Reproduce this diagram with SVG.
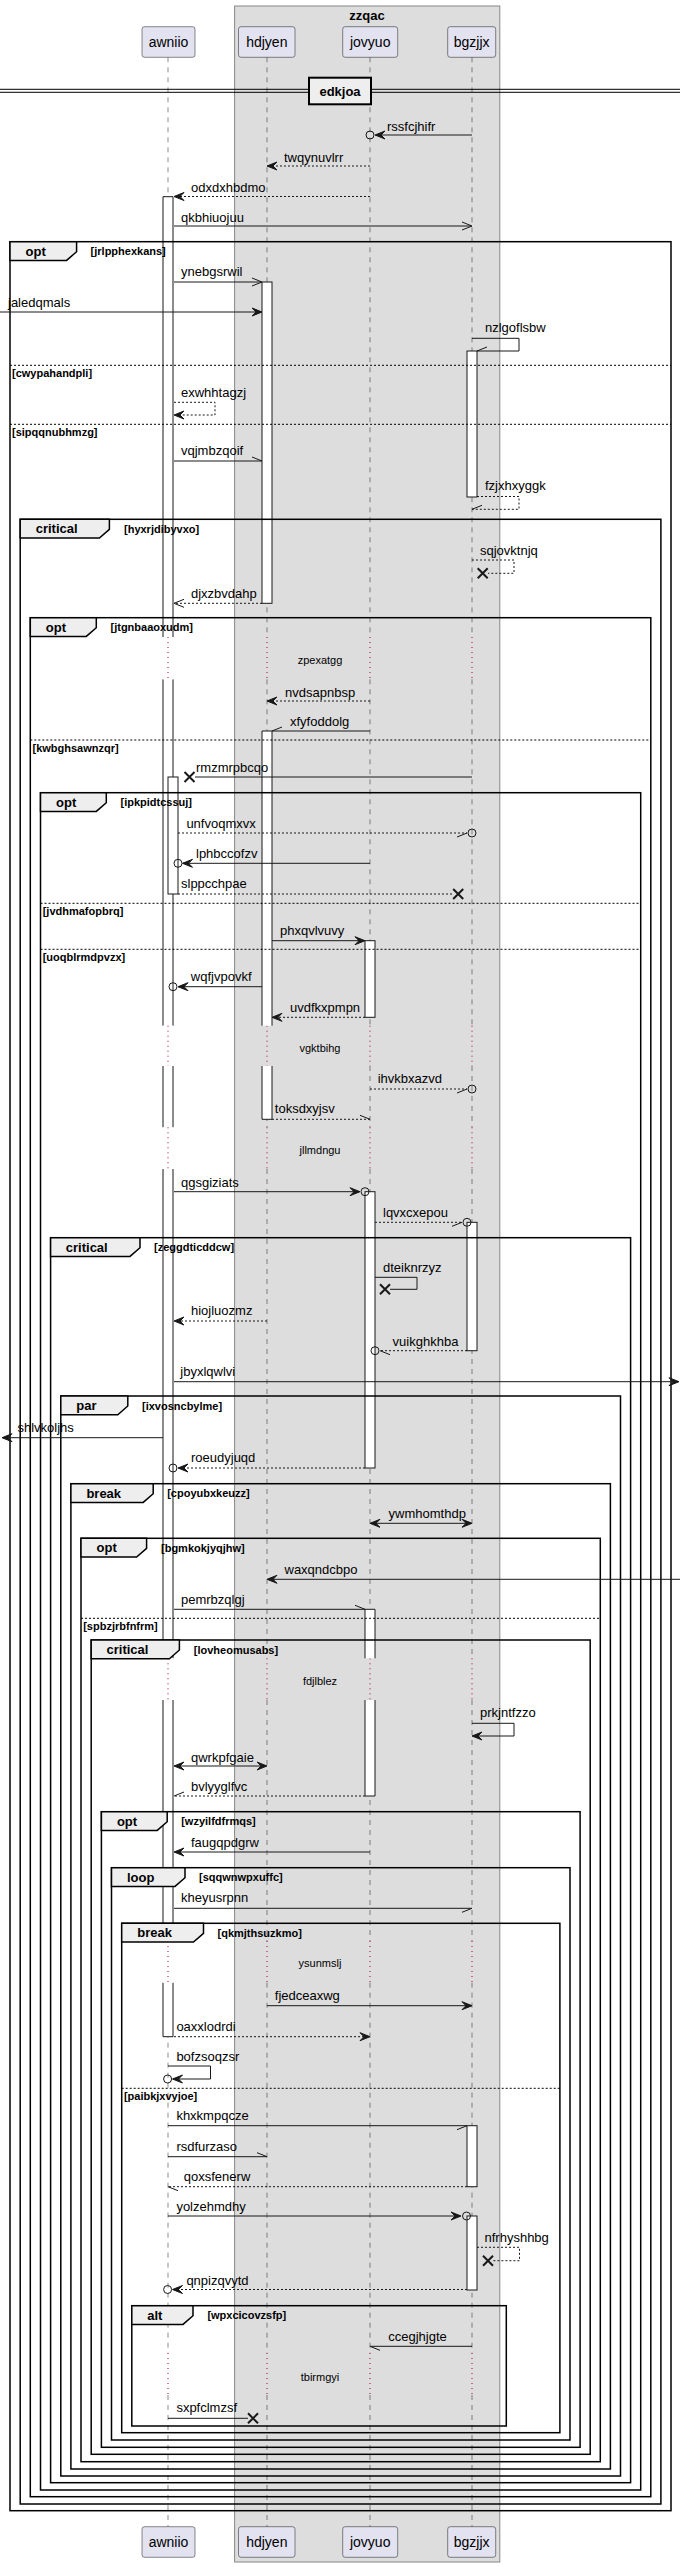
<svg xmlns="http://www.w3.org/2000/svg" width="680" height="2567" viewBox="0 0 680 2567">
<style>
text{font-family:"Liberation Sans",Arial,sans-serif;fill:#000}
.m{font-size:13px}
.p{font-size:14px}
.b{font-size:13px;font-weight:bold}
.c{font-size:11px;font-weight:bold}
.d{font-size:11px}
.pb{fill:#E2E2F0;stroke:#181818;stroke-width:0.5}
.ll{fill:none;stroke:#181818;stroke-width:0.5;stroke-dasharray:5,5}
.dl{fill:none;stroke:#A80036;stroke-width:1;stroke-dasharray:1,4}
.af{fill:#fff;stroke:none}
.as{fill:none;stroke:#181818;stroke-width:1}
.fr{fill:none;stroke:#000;stroke-width:1.5}
.tab{fill:#EEEEEE;stroke:#000;stroke-width:1.5}
.el{fill:none;stroke:#000;stroke-width:1;stroke-dasharray:2,2}
.s{fill:none;stroke:#181818;stroke-width:1}
.ds{fill:none;stroke:#181818;stroke-width:1;stroke-dasharray:2,2}
.h{fill:#181818;stroke:#181818;stroke-width:1}
.o{fill:none;stroke:#181818;stroke-width:1}
.x{fill:none;stroke:#181818;stroke-width:2}
</style>
<g id="box-zzqac">
<rect x="234.6" y="6" width="265.2" height="2556" fill="#DDDDDD" stroke="#888" stroke-width="1"/>
<text class="b" x="367" y="20" text-anchor="middle">zzqac</text>
</g>
<g id="lifelines">
<path class="ll" d="M168,57.3V637M168,679.3V1025.7M168,1066V1127.3M168,1169V1658.3M168,1700V1941M168,1982.7V2353M168,2395V2526.7"/>
<path class="ll" d="M267,57.3V637M267,679.3V1025.7M267,1066V1127.3M267,1169V1658.3M267,1700V1941M267,1982.7V2353M267,2395V2526.7"/>
<path class="ll" d="M370,57.3V637M370,679.3V1025.7M370,1066V1127.3M370,1169V1658.3M370,1700V1941M370,1982.7V2353M370,2395V2526.7"/>
<path class="ll" d="M472,57.3V637M472,679.3V1025.7M472,1066V1127.3M472,1169V1658.3M472,1700V1941M472,1982.7V2353M472,2395V2526.7"/>
<path class="dl" d="M168,637V679.3M168,1025.7V1066M168,1127.3V1169M168,1658.3V1700M168,1941V1982.7M168,2353V2395"/>
<path class="dl" d="M267,637V679.3M267,1025.7V1066M267,1127.3V1169M267,1658.3V1700M267,1941V1982.7M267,2353V2395"/>
<path class="dl" d="M370,637V679.3M370,1025.7V1066M370,1127.3V1169M370,1658.3V1700M370,1941V1982.7M370,2353V2395"/>
<path class="dl" d="M472,637V679.3M472,1025.7V1066M472,1127.3V1169M472,1658.3V1700M472,1941V1982.7M472,2353V2395"/>
</g>
<g id="participant-awniio">
<rect class="pb" x="142" y="26.7" width="53" height="30.6" rx="2.5"/>
<text class="p" x="168.5" y="46.5" text-anchor="middle">awniio</text>
<rect class="pb" x="142" y="2526.7" width="53" height="30.6" rx="2.5"/>
<text class="p" x="168.5" y="2546.5" text-anchor="middle">awniio</text>
</g>
<g id="participant-hdjyen">
<rect class="pb" x="238.5" y="26.7" width="56.5" height="30.6" rx="2.5"/>
<text class="p" x="266.8" y="46.5" text-anchor="middle">hdjyen</text>
<rect class="pb" x="238.5" y="2526.7" width="56.5" height="30.6" rx="2.5"/>
<text class="p" x="266.8" y="2546.5" text-anchor="middle">hdjyen</text>
</g>
<g id="participant-jovyuo">
<rect class="pb" x="342.7" y="26.7" width="55" height="30.6" rx="2.5"/>
<text class="p" x="370.2" y="46.5" text-anchor="middle">jovyuo</text>
<rect class="pb" x="342.7" y="2526.7" width="55" height="30.6" rx="2.5"/>
<text class="p" x="370.2" y="2546.5" text-anchor="middle">jovyuo</text>
</g>
<g id="participant-bgzjjx">
<rect class="pb" x="447.7" y="26.7" width="48" height="30.6" rx="2.5"/>
<text class="p" x="471.7" y="46.5" text-anchor="middle">bgzjjx</text>
<rect class="pb" x="447.7" y="2526.7" width="48" height="30.6" rx="2.5"/>
<text class="p" x="471.7" y="2546.5" text-anchor="middle">bgzjjx</text>
</g>
<g id="activations">
<rect class="af" x="163" y="196.7" width="10" height="1839.9"/>
<path class="as" d="M163,637V196.7H173V637M163,679.3V1025.7M173,679.3V1025.7M163,1066V1127.3M173,1066V1127.3M163,1169V1658.3M173,1169V1658.3M163,1700V1941M173,1700V1941M163,1982.7V2036.7H173V1982.7"/>
<rect class="af" x="163" y="637" width="10" height="42.3"/>
<rect class="af" x="163" y="1025.7" width="10" height="40.3"/>
<rect class="af" x="163" y="1127.3" width="10" height="41.7"/>
<rect class="af" x="163" y="1658.3" width="10" height="41.7"/>
<rect class="af" x="163" y="1941" width="10" height="41.7"/>
<path class="dl" d="M168,637V679.3M168,1025.7V1066M168,1127.3V1169M168,1658.3V1700M168,1941V1982.7"/>
<rect class="af as" x="168" y="777" width="10" height="117" style="fill:#fff"/>
<rect x="262" y="282" width="10" height="321.3" fill="#fff" stroke="#181818"/>
<rect class="af" x="262" y="731" width="10" height="294.7"/>
<rect class="af" x="262" y="1066" width="10" height="53.3"/>
<path class="as" d="M262,1025.7V731H272V1025.7M262,1066V1119.3H272V1066"/>
<rect x="365" y="940.7" width="10" height="76.6" fill="#fff" stroke="#181818"/>
<rect x="365" y="1191.7" width="10" height="276.3" fill="#fff" stroke="#181818"/>
<rect class="af" x="365" y="1609.3" width="10" height="49"/>
<rect class="af" x="365" y="1700" width="10" height="96"/>
<path class="as" d="M365,1658.3V1609.3H375V1658.3M365,1700V1796H375V1700"/>
<rect x="467" y="351" width="10" height="146" fill="#fff" stroke="#181818"/>
<rect x="467" y="1222.3" width="10" height="128.4" fill="#fff" stroke="#181818"/>
<rect x="467" y="2125.7" width="10" height="61" fill="#fff" stroke="#181818"/>
<rect x="467" y="2216" width="10" height="74" fill="#fff" stroke="#181818"/>
</g>
<g id="divider-edkjoa">
<path d="M0,89.3H680M0,92.3H680" stroke="#000" stroke-width="1" fill="none"/>
<rect x="309" y="77.7" width="62" height="26.6" fill="#EEEEEE" stroke="#000" stroke-width="2"/>
<text class="b" x="340" y="95.5" text-anchor="middle">edkjoa</text>
</g>
<g id="frames">
<g id="frame-opt-jrlpphexkans">
<rect class="fr" x="10" y="241.7" width="661" height="2269"/>
<path class="tab" d="M10,241.7H76.6V251.7L66.6,260.4H10Z"/>
<text class="b" x="25.5" y="255.7">opt</text>
<text class="c" x="90.6" y="255.2">[jrlpphexkans]</text>
<path class="el" d="M10,365.3H671M10,424.3H671"/>
<text class="c" x="12" y="376.7">[cwypahandpli]</text>
<text class="c" x="12" y="435.7">[sipqqnubhmzg]</text>
</g>
<g id="frame-critical-hyxrjdibyvxo">
<rect class="fr" x="20.2" y="519.3" width="640.7" height="1984.7"/>
<path class="tab" d="M20.2,519.3H109.4V529.3L99.4,538H20.2Z"/>
<text class="b" x="35.7" y="533.3">critical</text>
<text class="c" x="124" y="532.8">[hyxrjdibyvxo]</text>
</g>
<g id="frame-opt-jtgnbaaoxudm">
<rect class="fr" x="30.3" y="617.7" width="620.5" height="1879"/>
<path class="tab" d="M30.3,617.7H96.3V627.7L86.3,636.4H30.3Z"/>
<text class="b" x="45.8" y="631.7">opt</text>
<text class="c" x="110.5" y="631.2">[jtgnbaaoxudm]</text>
<path class="el" d="M30.3,740H650.8"/>
<text class="c" x="32.5" y="751.5">[kwbghsawnzqr]</text>
</g>
<g id="frame-opt-ipkpidtcssuj">
<rect class="fr" x="40.5" y="792.7" width="600.2" height="1697.3"/>
<path class="tab" d="M40.5,792.7H106.3V802.7L96.3,811.4H40.5Z"/>
<text class="b" x="56" y="806.7">opt</text>
<text class="c" x="120.5" y="806.2">[ipkpidtcssuj]</text>
<path class="el" d="M40.5,903.3H640.7M40.5,949.3H640.7"/>
<text class="c" x="42.7" y="914.7">[jvdhmafopbrq]</text>
<text class="c" x="42.7" y="960.7">[uoqblrmdpvzx]</text>
</g>
<g id="frame-critical-zeggdticddcw">
<rect class="fr" x="50.6" y="1237.7" width="580" height="1245"/>
<path class="tab" d="M50.6,1237.7H140V1247.7L130,1256.4H50.6Z"/>
<text class="b" x="65.8" y="1251.7">critical</text>
<text class="c" x="154" y="1251.2">[zeggdticddcw]</text>
</g>
<g id="frame-par-ixvosncbylme">
<rect class="fr" x="60.8" y="1396" width="559.7" height="1080"/>
<path class="tab" d="M60.8,1396H127.8V1406L117.8,1414.7H60.8Z"/>
<text class="b" x="76.3" y="1410">par</text>
<text class="c" x="142" y="1409.5">[ixvosncbylme]</text>
</g>
<g id="frame-break-cpoyubxkeuzz">
<rect class="fr" x="70.9" y="1483.7" width="539.5" height="985.3"/>
<path class="tab" d="M70.9,1483.7H153.2V1493.7L143.2,1502.4H70.9Z"/>
<text class="b" x="86.4" y="1497.7">break</text>
<text class="c" x="167.2" y="1497.2">[cpoyubxkeuzz]</text>
</g>
<g id="frame-opt-bgmkokjyqjhw">
<rect class="fr" x="81" y="1538.3" width="519.3" height="923.4"/>
<path class="tab" d="M81,1538.3H146.6V1548.3L136.6,1557H81Z"/>
<text class="b" x="96.5" y="1552.3">opt</text>
<text class="c" x="161" y="1551.8">[bgmkokjyqjhw]</text>
<path class="el" d="M81,1618.3H600.3"/>
<text class="c" x="83.2" y="1629.7">[spbzjrbfnfrm]</text>
</g>
<g id="frame-critical-lovheomusabs">
<rect class="fr" x="91.2" y="1640" width="499" height="814.3"/>
<path class="tab" d="M91.2,1640H179.4V1650L169.4,1658.7H91.2Z"/>
<text class="b" x="106.5" y="1654">critical</text>
<text class="c" x="193.8" y="1653.5">[lovheomusabs]</text>
</g>
<g id="frame-opt-wzyilfdfrmqs">
<rect class="fr" x="101.4" y="1811.7" width="478.7" height="635.6"/>
<path class="tab" d="M101.4,1811.7H167.2V1821.7L157.2,1830.4H101.4Z"/>
<text class="b" x="116.9" y="1825.7">opt</text>
<text class="c" x="181.2" y="1825.2">[wzyilfdfrmqs]</text>
</g>
<g id="frame-loop-sqqwnwpxuffc">
<rect class="fr" x="111.5" y="1867.7" width="458.5" height="572.3"/>
<path class="tab" d="M111.5,1867.7H185V1877.7L175,1886.4H111.5Z"/>
<text class="b" x="127" y="1881.7">loop</text>
<text class="c" x="199" y="1881.2">[sqqwnwpxuffc]</text>
</g>
<g id="frame-break-qkmjthsuzkmo">
<rect class="fr" x="121.7" y="1923.3" width="438.2" height="509.4"/>
<path class="tab" d="M121.7,1923.3H203.5V1933.3L193.5,1942H121.7Z"/>
<text class="b" x="137.2" y="1937.3">break</text>
<text class="c" x="217.5" y="1936.8">[qkmjthsuzkmo]</text>
<path class="el" d="M121.7,2088.3H559.9"/>
<text class="c" x="123.9" y="2099.7">[paibkjxvyjoe]</text>
</g>
<g id="frame-alt-wpxcicovzsfp">
<rect class="fr" x="131.8" y="2305.7" width="374.5" height="120.3"/>
<path class="tab" d="M131.8,2305.7H193V2315.7L183,2324.4H131.8Z"/>
<text class="b" x="147.2" y="2319.7">alt</text>
<text class="c" x="207.4" y="2319.2">[wpxcicovzsfp]</text>
</g>
</g>
<g id="delays">
<text class="d" x="320" y="664" text-anchor="middle">zpexatgg</text>
<text class="d" x="320" y="1051.7" text-anchor="middle">vgktbihg</text>
<text class="d" x="320" y="1154" text-anchor="middle">jllmdngu</text>
<text class="d" x="320" y="1685" text-anchor="middle">fdjlblez</text>
<text class="d" x="320" y="1967.3" text-anchor="middle">ysunmslj</text>
<text class="d" x="320" y="2380.7" text-anchor="middle">tbirmgyi</text>
</g>
<g id="connectors">
<path class="s" d="M472,135H376"/><polygon class="h" points="375,135 385,131 381,135 385,139"/><circle class="o" cx="370" cy="135" r="4"/>
<text class="m" x="387" y="131">rssfcjhifr</text>
<path class="ds" d="M370,166H268"/><polygon class="h" points="267,166 277,162 273,166 277,170"/>
<text class="m" x="284" y="161.5">twqynuvlrr</text>
<path class="ds" d="M370,196.5H175"/><polygon class="h" points="174,196.5 184,192.5 180,196.5 184,200.5"/>
<text class="m" x="191" y="192">odxdxhbdmo</text>
<path class="s" d="M174,226H471M462,222L472,226L462,230"/>
<text class="m" x="181" y="221.5">qkbhiuojuu</text>
<path class="s" d="M174,282H261M252,278L262,282L252,286"/>
<text class="m" x="181" y="275.5">ynebgsrwil</text>
<path class="s" d="M0,312H261"/><polygon class="h" points="262,312 252,308 256,312 252,316"/>
<text class="m" x="8" y="307">jaledqmals</text>
<path class="s" d="M472,338.3H519V351H477M477,351L487,347"/>
<text class="m" x="485" y="332">nzlgoflsbw</text>
<path class="ds" d="M174,402.3H215V415H175"/><polygon class="h" points="174,415 184,411 180,415 184,419"/>
<text class="m" x="181" y="396.5">exwhhtagzj</text>
<path class="s" d="M174,461H262L252,457"/>
<text class="m" x="181" y="455">vqjmbzqoif</text>
<path class="ds" d="M477,496.5H519V509.3H472"/><path class="s" d="M472,509.3L482,505.3"/>
<text class="m" x="485" y="490">fzjxhxyggk</text>
<path class="ds" d="M472,560H514V573.3H488"/><path class="x" d="M477.7,568.3L487.7,578.3M477.7,578.3L487.7,568.3"/>
<text class="m" x="480" y="555">sqjovktnjq</text>
<path class="ds" d="M262,603.3H175"/><path class="s" d="M184,599.3L174,603.3L184,607.3"/>
<text class="m" x="191" y="597.7">djxzbvdahp</text>
<path class="ds" d="M370,701H268"/><polygon class="h" points="267,701 277,697 273,701 277,705"/>
<text class="m" x="285" y="696.7">nvdsapnbsp</text>
<path class="s" d="M370,731H272L282,727"/>
<text class="m" x="290" y="726">xfyfoddolg</text>
<path class="s" d="M472,777H195"/><path class="x" d="M184.5,772L194.5,782M184.5,782L194.5,772"/>
<text class="m" x="196" y="771.7">rmzmrpbcqo</text>
<path class="ds" d="M178,833H467"/><path class="s" d="M467,833L457,837"/><circle class="o" cx="472" cy="833" r="4"/>
<text class="m" x="186.4" y="827.7">unfvoqmxvx</text>
<path class="s" d="M370,863.3H183"/><polygon class="h" points="182.5,863.3 192.5,859.3 188.5,863.3 192.5,867.3"/><circle class="o" cx="178" cy="863.3" r="4"/>
<text class="m" x="196" y="858">lphbccofzv</text>
<path class="ds" d="M178,894H453"/><path class="x" d="M453.2,889L463.2,899M453.2,899L463.2,889"/>
<text class="m" x="181" y="888.3">slppcchpae</text>
<path class="s" d="M272,940.7H364"/><polygon class="h" points="365,940.7 355,936.7 359,940.7 355,944.7"/>
<text class="m" x="280" y="935">phxqvlvuvy</text>
<path class="s" d="M262,986.7H178"/><polygon class="h" points="178,986.7 188,982.7 184,986.7 188,990.7"/><circle class="o" cx="173" cy="986.7" r="4"/>
<text class="m" x="190.8" y="981">wqfjvpovkf</text>
<path class="ds" d="M365,1017.3H273"/><polygon class="h" points="272,1017.3 282,1013.3 278,1017.3 282,1021.3"/>
<text class="m" x="290" y="1011.7">uvdfkxpmpn</text>
<path class="ds" d="M370,1089H467"/><path class="s" d="M467,1089L457,1093"/><circle class="o" cx="472" cy="1089" r="4"/>
<text class="m" x="377.7" y="1083.3">ihvkbxazvd</text>
<path class="ds" d="M272,1119.3H370"/><path class="s" d="M370,1119.3L360,1115.3"/>
<text class="m" x="274.8" y="1113.3">toksdxyjsv</text>
<path class="s" d="M174,1191.7H359"/><polygon class="h" points="360,1191.7 350,1187.7 354,1191.7 350,1195.7"/><circle class="o" cx="365" cy="1191.7" r="4"/>
<text class="m" x="181" y="1186.7">qgsgiziats</text>
<path class="ds" d="M375,1222.3H462"/><path class="s" d="M462,1222.3L452,1226.3"/><circle class="o" cx="467" cy="1222.3" r="4"/>
<text class="m" x="383" y="1216.7">lqvxcxepou</text>
<path class="s" d="M375,1277.3H417V1289.3H390"/><path class="x" d="M380,1284.3L390,1294.3M380,1294.3L390,1284.3"/>
<text class="m" x="383" y="1272.3">dteiknrzyz</text>
<path class="ds" d="M267,1321H175"/><polygon class="h" points="174,1321 184,1317 180,1321 184,1325"/>
<text class="m" x="191" y="1315">hiojluozmz</text>
<path class="ds" d="M467,1350.7H380"/><path class="s" d="M380,1350.7L390,1354.7"/><circle class="o" cx="375" cy="1350.7" r="4"/>
<text class="m" x="392.6" y="1346">vuikghkhba</text>
<path class="s" d="M174,1381.7H678"/><polygon class="h" points="679,1381.7 669,1377.7 673,1381.7 669,1385.7"/>
<text class="m" x="180.3" y="1375.7">jbyxlqwlvi</text>
<path class="s" d="M163,1437.7H3"/><polygon class="h" points="2,1437.7 12,1433.7 8,1437.7 12,1441.7"/>
<text class="m" x="17.5" y="1431.7">shlvkoljhs</text>
<path class="ds" d="M365,1468H179"/><polygon class="h" points="178,1468 188,1464 184,1468 188,1472"/><circle class="o" cx="173" cy="1468" r="4"/>
<text class="m" x="191" y="1461.7">roeudyjuqd</text>
<path class="s" d="M371,1523.3H471"/><polygon class="h" points="370,1523.3 380,1519.3 376,1523.3 380,1527.3"/><polygon class="h" points="472,1523.3 462,1519.3 466,1523.3 462,1527.3"/>
<text class="m" x="388.6" y="1518.3">ywmhomthdp</text>
<path class="s" d="M680,1579.3H268"/><polygon class="h" points="267,1579.3 277,1575.3 273,1579.3 277,1583.3"/>
<text class="m" x="284.5" y="1574">waxqndcbpo</text>
<path class="s" d="M174,1609.3H365L355,1605.3"/>
<text class="m" x="181" y="1604">pemrbzqlgj</text>
<path class="s" d="M472,1723.3H514V1736H473"/><polygon class="h" points="472,1736 482,1732 478,1736 482,1740"/>
<text class="m" x="480" y="1716.7">prkjntfzzo</text>
<path class="s" d="M175,1766H266"/><polygon class="h" points="174,1766 184,1762 180,1766 184,1770"/><polygon class="h" points="267,1766 257,1762 261,1766 257,1770"/>
<text class="m" x="191" y="1761.7">qwrkpfgaie</text>
<path class="ds" d="M365,1796H174"/><path class="s" d="M174,1796L184,1792"/>
<text class="m" x="191" y="1791">bvlyyglfvc</text>
<path class="s" d="M370,1852H175"/><polygon class="h" points="174,1852 184,1848 180,1852 184,1856"/>
<text class="m" x="191" y="1846.7">faugqpdgrw</text>
<path class="s" d="M174,1908.3H472L462,1912.3"/>
<text class="m" x="181" y="1902.3">kheyusrpnn</text>
<path class="s" d="M267,2005.7H471"/><polygon class="h" points="472,2005.7 462,2001.7 466,2005.7 462,2009.7"/>
<text class="m" x="274.8" y="2000">fjedceaxwg</text>
<path class="ds" d="M174,2036.7H369"/><polygon class="h" points="370,2036.7 360,2032.7 364,2036.7 360,2040.7"/>
<text class="m" x="176.4" y="2030.5">oaxxlodrdi</text>
<path class="s" d="M168,2066H210.5V2079H173"/><polygon class="h" points="172.5,2079 182.5,2075 178.5,2079 182.5,2083"/><circle class="o" cx="167.6" cy="2079" r="4"/>
<text class="m" x="176.4" y="2060.7">bofzsoqzsr</text>
<path class="s" d="M168,2125.7H467L457,2129.7"/>
<text class="m" x="176.4" y="2120">khxkmpqcze</text>
<path class="s" d="M168,2156.7H267L257,2152.7"/>
<text class="m" x="176.4" y="2150.5">rsdfurzaso</text>
<path class="ds" d="M467,2186.7H168"/><path class="s" d="M168,2186.7L178,2190.7"/>
<text class="m" x="183.8" y="2181">qoxsfenerw</text>
<path class="s" d="M168,2216H460"/><polygon class="h" points="461,2216 451,2212 455,2216 451,2220"/><circle class="o" cx="466.5" cy="2216" r="4"/>
<text class="m" x="176.4" y="2211">yolzehmdhy</text>
<path class="ds" d="M477,2247.3H519.5V2260.7H493"/><path class="x" d="M483,2255.7L493,2265.7M483,2265.7L493,2255.7"/>
<text class="m" x="484.5" y="2241.7">nfrhyshhbg</text>
<path class="ds" d="M467,2289.5H173"/><polygon class="h" points="172.5,2289.5 182.5,2285.5 178.5,2289.5 182.5,2293.5"/><circle class="o" cx="167.6" cy="2289.5" r="4"/>
<text class="m" x="186.4" y="2285">qnpizqvytd</text>
<path class="s" d="M472,2346.3H370L380,2350.3"/>
<text class="m" x="388.2" y="2341">ccegjhjgte</text>
<path class="s" d="M168,2418.3H248"/><path class="x" d="M248,2413.3L258,2423.3M248,2423.3L258,2413.3"/>
<text class="m" x="176.4" y="2411.7">sxpfclmzsf</text>
</g>
</svg>
